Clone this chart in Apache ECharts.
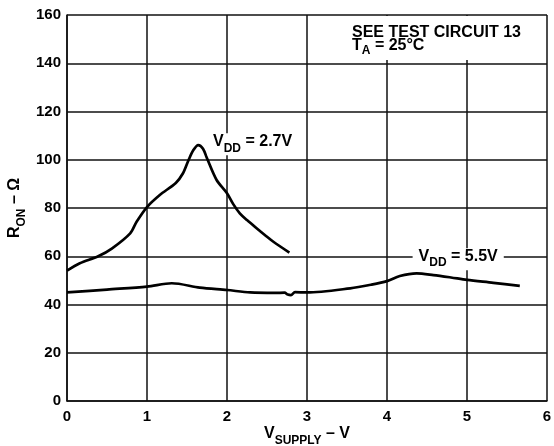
<!DOCTYPE html>
<html>
<head>
<meta charset="utf-8">
<script src="https://cdn.jsdelivr.net/npm/echarts@6/dist/echarts.min.js"></script>
<style>
html,body{margin:0;padding:0;background:#fff;}
#c{width:554px;height:446px;}
</style>
</head>
<body>
<div id="c"></div>
<script>
// Data
var vdd27X = [0, 0.16, 0.39, 0.56, 0.79, 0.87, 1.0, 1.16, 1.36, 1.45, 1.52, 1.58, 1.64, 1.70, 1.75, 1.87, 2.0, 2.08, 2.16, 2.25, 2.37, 2.48, 2.58, 2.78];
var vdd27Y = [54, 57.1, 60, 63.2, 69.5, 74.3, 80.4, 85.4, 90.4, 94.4, 99.9, 104, 106.1, 104.6, 100.6, 91.6, 86.1, 81.5, 77.8, 75, 71.6, 68.6, 66, 61.5];
var vdd55X = [0, 0.5, 1.0, 1.31, 1.66, 2.0, 2.29, 2.6, 2.72, 2.76, 2.8, 2.85, 3.0, 3.54, 3.8, 4.0, 4.16, 4.37, 4.58, 4.8, 5.0, 5.33, 5.66];
var vdd55Y = [45, 46.2, 47.4, 48.8, 47.0, 46.0, 45.0, 44.8, 44.9, 44.1, 43.9, 45.1, 45.0, 46.7, 48.2, 49.7, 51.8, 52.9, 52.2, 51.2, 50.2, 49.0, 47.7];
var xTicks = [0, 1, 2, 3, 4, 5, 6];
var yTicks = [0, 20, 40, 60, 80, 100, 120, 140, 160];
var label27 = {x: 2.32, y: 106.4, text: '2.7V'};
var label55 = {x: 4.89, y: 58.8, text: '5.5V'};

function pairs(xs, ys) { return xs.map(function (x, i) { return [x, ys[i]]; }); }

var FONT = '"Liberation Sans", Arial, Helvetica, sans-serif';
var subRich = {
  v: {fontFamily: FONT, fontWeight: 'bold', fontSize: 16, color: '#000', lineHeight: 22, verticalAlign: 'top'},
  s: {fontFamily: FONT, fontWeight: 'bold', fontSize: 12, color: '#000', lineHeight: 22, verticalAlign: 'top', padding: [9, 0, 0, 0]}
};

function vddLabel(l) {
  return {
    coord: [l.x, l.y],
    symbol: 'rect', symbolSize: 1,
    itemStyle: {color: 'rgba(0,0,0,0)'},
    label: {
      show: true, position: 'inside',
      formatter: '{v|V}{s|DD}{v| = ' + l.text + '}',
      backgroundColor: '#fff',
      padding: [0, 6, 0, 6],
      rich: subRich
    }
  };
}

var chart = echarts.init(document.getElementById('c'), null, {renderer: 'canvas'});
var lineAx = {show: true, lineStyle: {color: '#111', width: 1.5}};
chart.setOption({
  animation: false,
  backgroundColor: '#fff',
  grid: {left: 67, right: 7, top: 15, bottom: 45, containLabel: false, outerBoundsMode: 'none'},
  xAxis: {
    type: 'value', min: xTicks[0], max: xTicks[xTicks.length - 1], interval: 1,
    axisLine: lineAx, axisTick: {show: false},
    splitLine: {show: true, lineStyle: {color: '#111', width: 1.5}},
    axisLabel: {color: '#000', fontFamily: FONT, fontWeight: 'bold', fontSize: 15, margin: 8},
    name: '{v|V}{s|SUPPLY}{v| – V}',
    nameLocation: 'middle', nameGap: 25, nameMoveOverlap: false,
    nameTextStyle: {rich: subRich}
  },
  yAxis: {
    type: 'value', min: yTicks[0], max: yTicks[yTicks.length - 1], interval: 20,
    axisLine: lineAx, axisTick: {show: false},
    splitLine: {show: true, lineStyle: {color: '#111', width: 1.5}},
    axisLabel: {color: '#000', fontFamily: FONT, fontWeight: 'bold', fontSize: 15, margin: 6},
    name: '{v|R}{s|ON}{v| – Ω}',
    nameLocation: 'middle', nameGap: 38, nameMoveOverlap: false,
    nameTextStyle: {rich: subRich}
  },
  series: [
    {
      type: 'line', data: pairs(vdd27X, vdd27Y), smooth: 0.3, symbol: 'none',
      lineStyle: {color: '#000', width: 2.7}, z: 3,
      markPoint: {data: [vddLabel(label27)], z: 5}
    },
    {
      type: 'line', data: pairs(vdd55X, vdd55Y), smooth: 0.3, symbol: 'none',
      lineStyle: {color: '#000', width: 2.7}, z: 3,
      markPoint: {data: [vddLabel(label55)], z: 5}
    }
  ],
  graphic: [
    {type: 'rect', shape: {x: 344, y: 16, width: 194, height: 44}, style: {fill: '#fff'}, z: 10},
    {type: 'text', x: 352, y: 24.5, z: 11, style: {text: 'SEE TEST CIRCUIT 13', fontFamily: FONT, fontWeight: 'bold', fontSize: 16, fill: '#000', verticalAlign: 'top'}},
    {type: 'text', x: 352, y: 38, z: 11, style: {text: '{v|T}{s|A}{v| = 25°C}', verticalAlign: 'top', rich: {
      v: {fontFamily: FONT, fontWeight: 'bold', fontSize: 16, fill: '#000', lineHeight: 20, verticalAlign: 'top'},
      s: {fontFamily: FONT, fontWeight: 'bold', fontSize: 12, fill: '#000', lineHeight: 20, verticalAlign: 'top', padding: [7, 0, 0, 0]}
    }}}
  ]
});
</script>
</body>
</html>
